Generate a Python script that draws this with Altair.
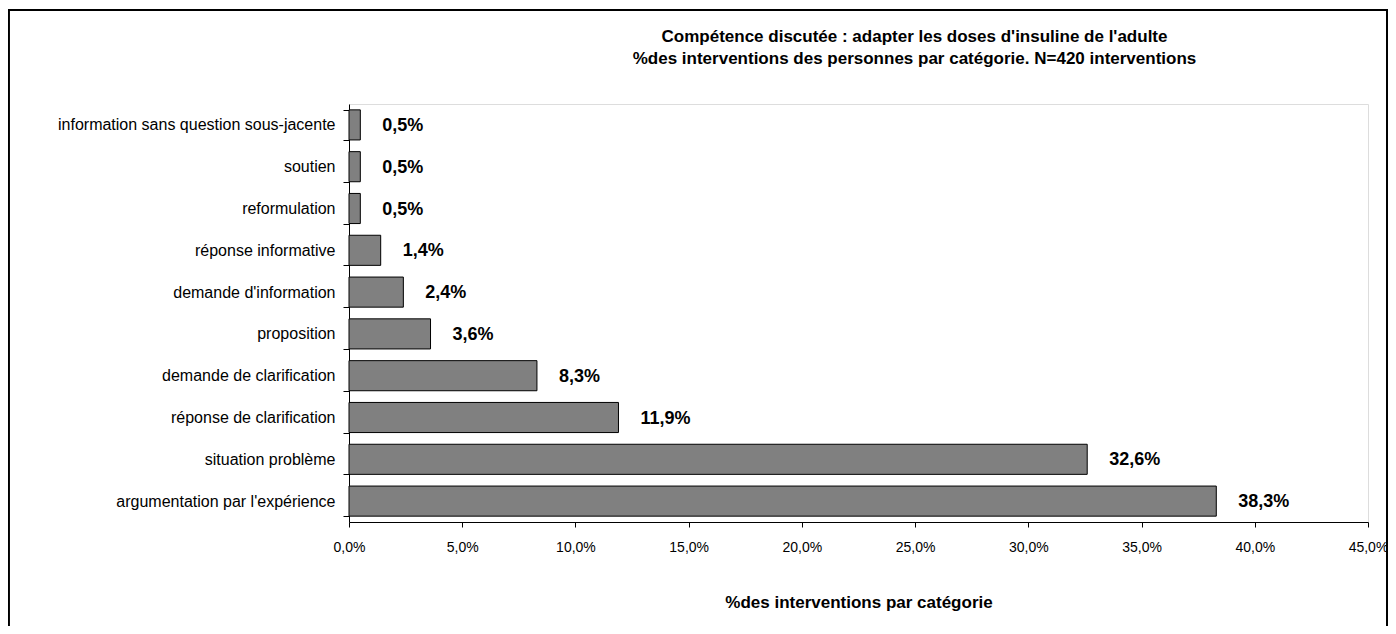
import altair as alt
import pandas as pd

categories = [
    "information sans question sous-jacente",
    "soutien",
    "reformulation",
    "réponse informative",
    "demande d'information",
    "proposition",
    "demande de clarification",
    "réponse de clarification",
    "situation problème",
    "argumentation par l'expérience",
]
values = [0.5, 0.5, 0.5, 1.4, 2.4, 3.6, 8.3, 11.9, 32.6, 38.3]
x_ticks = [0, 5, 10, 15, 20, 25, 30, 35, 40, 45]

df = pd.DataFrame({"cat": categories, "val": values})

FONT = "Liberation Sans"
W, H = 1019, 418

y_enc = alt.Y(
    "cat:N",
    sort=categories,
    title=None,
    scale=alt.Scale(paddingInner=0.28, paddingOuter=0.14),
    axis=alt.Axis(
        labelFont=FONT, labelFontSize=16, labelColor="black", labelPadding=8,
        tickBand="extent", tickSize=6, tickColor="black", domainColor="black",
        labelLimit=400,
    ),
)
x_enc = alt.X(
    "val:Q",
    title="%des interventions par catégorie",
    scale=alt.Scale(domain=[0, 45], nice=False),
    axis=alt.Axis(
        values=x_ticks, grid=False, tickSize=5, tickColor="black", domainColor="black",
        labelFont=FONT, labelFontSize=14, labelColor="black", labelPadding=13,
        labelExpr="replace(format(datum.value, '.1f'), '.', ',') + '%'",
        titleFont=FONT, titleFontSize=17, titleFontWeight="bold", titleColor="black",
        titlePadding=40, labelFlush=False,
    ),
)

base = alt.Chart(df)
bars = base.mark_bar(fill="#808080", stroke="black", strokeWidth=1).encode(x=x_enc, y=y_enc)
labels = base.transform_calculate(
    lab="replace(format(datum.val, '.1f'), '.', ',') + '%'"
).mark_text(
    align="left", baseline="middle", dx=22, dy=1, font=FONT, fontSize=18, fontWeight="bold", color="black"
).encode(x="val:Q", y=alt.Y("cat:N", sort=categories), text="lab:N")

frame_left = alt.Chart(df).mark_rule(color="black", strokeWidth=1.5).encode(
    x=alt.value(-340.5), y=alt.value(-94), y2=alt.value(600)
)
frame_top = alt.Chart(df).mark_rule(color="black", strokeWidth=1.5).encode(
    x=alt.value(-341), x2=alt.value(1038.5), y=alt.value(-94)
)
frame_right = alt.Chart(df).mark_rule(color="black", strokeWidth=1.5).encode(
    x=alt.value(1038), y=alt.value(-94), y2=alt.value(600)
)

chart = alt.layer(bars, labels, frame_left, frame_top, frame_right).properties(
    width=W,
    height=H,
    padding={"left": 341, "top": 96, "right": 20, "bottom": 104},
    autosize=alt.AutoSizeParams(type="none"),
    title=alt.TitleParams(
        text=[
            "Compétence discutée : adapter les doses d'insuline de l'adulte",
            "%des interventions des personnes par catégorie. N=420 interventions",
        ],
        font=FONT, fontSize=17, fontWeight="bold", color="black",
        anchor="middle", dx=56, offset=-59, lineHeight=22,
    ),
).configure_view(stroke="#a0a0a0", strokeWidth=1.5).configure(background="white")

chart.save("out.html", embed_options={"renderer": "svg", "actions": False})
